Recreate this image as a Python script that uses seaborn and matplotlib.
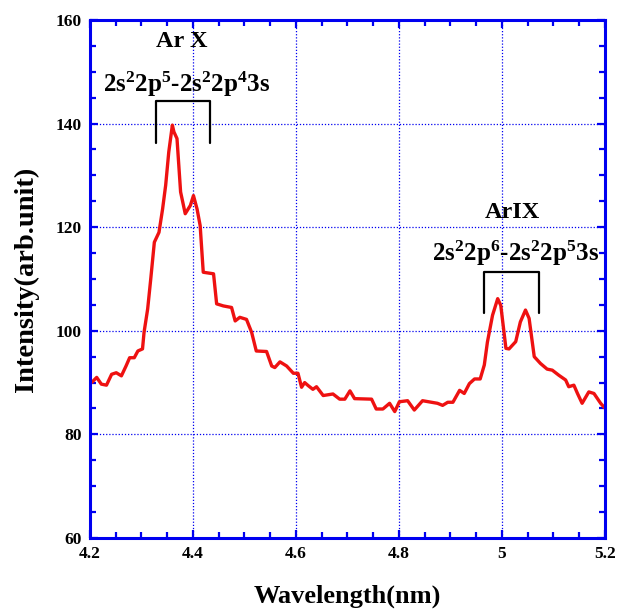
import matplotlib
matplotlib.use("Agg")
import matplotlib.pyplot as plt
import seaborn as sns
from matplotlib.ticker import MultipleLocator

# Spectrum
wavelength = [
    4.203, 4.213, 4.222, 4.232, 4.242, 4.251, 4.261, 4.270, 4.277, 4.286,
    4.293, 4.302, 4.305, 4.312, 4.318, 4.325, 4.334, 4.341, 4.347, 4.353,
    4.360, 4.363, 4.369, 4.376, 4.385, 4.395, 4.401, 4.408, 4.414, 4.420,
    4.440, 4.446, 4.459, 4.475, 4.482, 4.491, 4.504, 4.514, 4.523, 4.543,
    4.553, 4.559, 4.569, 4.582, 4.595, 4.604, 4.611, 4.617, 4.624, 4.633,
    4.640, 4.653, 4.672, 4.685, 4.695, 4.705, 4.714, 4.747, 4.756, 4.769,
    4.782, 4.792, 4.801, 4.817, 4.830, 4.846, 4.875, 4.885, 4.895, 4.905,
    4.918, 4.927, 4.937, 4.947, 4.958, 4.966, 4.972, 4.982, 4.992, 4.998,
    5.008, 5.014, 5.027, 5.036, 5.046, 5.053, 5.063, 5.075, 5.088, 5.098,
    5.111, 5.124, 5.130, 5.140, 5.147, 5.156, 5.169, 5.179, 5.192, 5.200,
]
intensity = [
    90.0, 91.0, 89.7, 89.5, 91.6, 91.9, 91.3, 93.2, 94.8, 94.8,
    96.1, 96.5, 99.7, 104.2, 110.0, 117.1, 119.0, 123.5, 128.1, 134.5,
    139.7, 138.4, 137.1, 126.8, 122.6, 124.2, 126.1, 123.5, 120.3, 111.3,
    111.0, 105.2, 104.8, 104.5, 101.9, 102.6, 102.2, 99.7, 96.1, 96.0,
    93.2, 92.9, 94.0, 93.2, 91.8, 91.8, 89.1, 90.0, 89.4, 88.7,
    89.2, 87.5, 87.8, 86.8, 86.8, 88.4, 86.9, 86.8, 84.9, 84.9,
    86.0, 84.4, 86.3, 86.5, 84.7, 86.5, 86.0, 85.6, 86.2, 86.2,
    88.5, 87.9, 89.8, 90.7, 90.7, 93.4, 97.8, 103.0, 106.2, 104.9,
    96.6, 96.5, 97.9, 101.7, 104.0, 102.4, 95.0, 93.7, 92.6, 92.4,
    91.4, 90.5, 89.2, 89.5, 87.9, 86.0, 88.2, 87.9, 86.0, 85.1,
]

# Line assignments: label, configuration, bracket span and bracket heights
ion_labels = ["Ar X", "ArIX"]
transitions = [
    r"$\mathbf{2s^{2}2p^{5}}$-$\mathbf{2s^{2}2p^{4}3s}$",
    r"$\mathbf{2s^{2}2p^{6}}$-$\mathbf{2s^{2}2p^{5}3s}$",
]
bracket_left = [4.328, 4.966]
bracket_right = [4.434, 5.072]
bracket_top = [144.4, 111.4]
bracket_bottom = [136.2, 103.4]
ion_pos = [(4.378, 155.8), (5.021, 122.9)]
transition_pos = [(4.387, 147.6), (5.026, 115.0)]

sns.set_style("ticks")
plt.rcParams["font.family"] = ["Liberation Serif", "DejaVu Serif"]
plt.rcParams["font.weight"] = "bold"
plt.rcParams["text.color"] = "black"
plt.rcParams["axes.labelcolor"] = "black"
plt.rcParams["xtick.labelcolor"] = "black"
plt.rcParams["ytick.labelcolor"] = "black"
plt.rcParams["mathtext.fontset"] = "custom"
plt.rcParams["mathtext.rm"] = "Liberation Serif:bold"
plt.rcParams["mathtext.bf"] = "Liberation Serif:bold"
plt.rcParams["mathtext.it"] = "Liberation Serif:bold"

blue = "#0000f0"

fig = plt.figure(figsize=(6.19, 6.11), dpi=100)
ax = fig.add_axes([0.1454, 0.1195, 0.8316, 0.8478])

sns.lineplot(x=wavelength, y=intensity, color="#ee1111", linewidth=2.4,
             estimator=None, sort=False, ax=ax)

ax.set_xlim(4.2, 5.2)
ax.set_ylim(60, 160)
ax.xaxis.set_major_locator(MultipleLocator(0.2))
ax.xaxis.set_minor_locator(MultipleLocator(0.05))
ax.yaxis.set_major_locator(MultipleLocator(20))
ax.yaxis.set_minor_locator(MultipleLocator(5))
ax.set_xticks([4.2, 4.4, 4.6, 4.8, 5.0, 5.2])
ax.set_xticklabels(["4.2", "4.4", "4.6", "4.8", "5", "5.2"])

ax.grid(True, which="major", color=blue, linestyle=(0, (1, 1.5)), linewidth=0.9)
for spine in ax.spines.values():
    spine.set_visible(True)
    spine.set_color(blue)
    spine.set_linewidth(2.2)
ax.tick_params(which="both", direction="in", color=blue, width=1.6,
               top=True, right=True, labelsize=12.5, pad=6)
ax.tick_params(which="major", length=6)
ax.tick_params(which="minor", length=4)
for lbl in ax.get_xticklabels() + ax.get_yticklabels():
    lbl.set_fontweight("bold")

ax.set_xlabel("Wavelength(nm)", fontsize=19, fontweight="bold", labelpad=16)
ax.set_ylabel("Intensity(arb.unit)", fontsize=20.5, fontweight="bold", labelpad=12)

for i in range(len(ion_labels)):
    ax.plot([bracket_left[i], bracket_left[i], bracket_right[i], bracket_right[i]],
            [bracket_bottom[i], bracket_top[i], bracket_top[i], bracket_bottom[i]],
            color="black", linewidth=1.6)
    ax.text(ion_pos[i][0], ion_pos[i][1], ion_labels[i], ha="center", va="center",
            fontsize=17.5, fontweight="bold")
    ax.text(transition_pos[i][0], transition_pos[i][1], transitions[i], ha="center",
            va="center", fontsize=18, fontweight="bold")

fig.savefig("out.png", dpi=100)
